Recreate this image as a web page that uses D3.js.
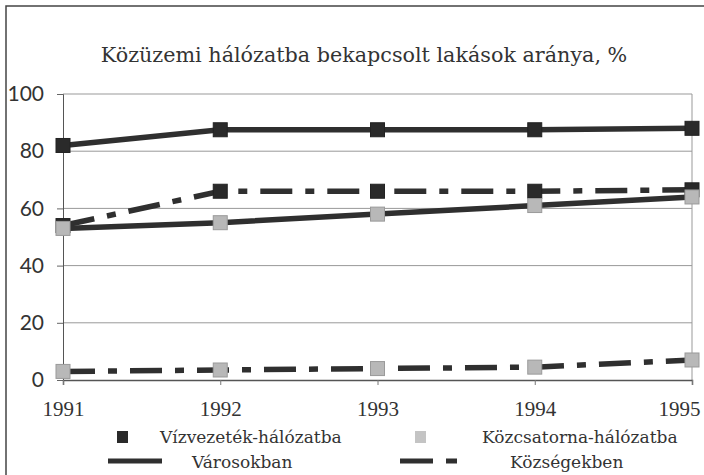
<!DOCTYPE html>
<html>
<head>
<meta charset="utf-8">
<script src="https://d3js.org/d3.v7.min.js"></script>
<style>
  body { margin: 0; background: #fff; }
  svg { display: block; }
</style>
</head>
<body>
<div id="chart"></div>
<script>
// data
const years = [1991, 1992, 1993, 1994, 1995];
const vizVaros = [82, 87.5, 87.5, 87.5, 88];
const vizKozseg = [54, 66, 66, 66, 66.5];
const csatVaros = [53, 55, 58, 61, 64];
const csatKozseg = [3, 3.5, 4, 4.5, 7];
const yTicks = [0, 20, 40, 60, 80, 100];

const width = 704, height = 475;
const plot = {left: 63, right: 692, top: 94, bottom: 380};
const serif = "'DejaVu Serif', serif";

const svg = d3.select("#chart").append("svg")
    .attr("width", width)
    .attr("height", height);

// outer frame of the figure
svg.append("rect")
    .attr("x", 6).attr("y", 6)
    .attr("width", 720).attr("height", 500)
    .attr("fill", "#fff")
    .attr("stroke", "#444")
    .attr("stroke-width", 1.5);

svg.append("text")
    .attr("x", 364).attr("y", 62)
    .attr("text-anchor", "middle")
    .style("font-family", serif)
    .style("font-size", "20.7px")
    .attr("fill", "#333")
    .text("Közüzemi hálózatba bekapcsolt lakások aránya, %");

const x = d3.scalePoint()
    .domain(years)
    .range([plot.left, plot.right]);

const y = d3.scaleLinear()
    .domain([0, 100])
    .range([plot.bottom, plot.top]);

// gridlines
svg.append("g")
  .selectAll("line")
  .data(yTicks.filter(d => d > 0))
  .join("line")
    .attr("x1", plot.left).attr("x2", plot.right)
    .attr("y1", d => y(d)).attr("y2", d => y(d))
    .attr("stroke", "#999")
    .attr("stroke-width", 1);

// right border of plot area
svg.append("line")
    .attr("x1", plot.right).attr("x2", plot.right)
    .attr("y1", y(100)).attr("y2", y(0))
    .attr("stroke", "#999");

// y axis
const yAxis = svg.append("g")
    .attr("transform", `translate(${plot.left},0)`)
    .call(d3.axisLeft(y).tickValues(yTicks).tickSize(6).tickPadding(13));
yAxis.select(".domain").attr("stroke", "#555");
yAxis.selectAll(".tick line").attr("stroke", "#666");
yAxis.selectAll("text")
    .style("font-family", "Lato, sans-serif")
    .style("font-size", "21px")
    .attr("fill", "#333");

// x axis
const xAxis = svg.append("g")
    .attr("transform", `translate(0,${plot.bottom})`)
    .call(d3.axisBottom(x).tickSize(5).tickPadding(16));
xAxis.select(".domain").attr("stroke", "#555").attr("stroke-width", 1.5);
xAxis.selectAll(".tick line").attr("stroke", "#777");
xAxis.selectAll("text")
    .style("font-family", "'Liberation Serif', serif")
    .style("font-size", "21px")
    .attr("fill", "#333");
// last label sits inside the frame
xAxis.selectAll(".tick text")
    .filter(d => d === years[years.length - 1])
    .attr("text-anchor", "end")
    .attr("x", 8);

const series = [
  {values: vizVaros, dash: null, marker: "#2a2a2a"},
  {values: vizKozseg, dash: "32,13,9,13", marker: "#2a2a2a"},
  {values: csatVaros, dash: null, marker: "#b8b8b8"},
  {values: csatKozseg, dash: "32,13,9,13", marker: "#b8b8b8"}
];

const line = d3.line()
    .x((d, i) => x(years[i]))
    .y(d => y(d));

series.forEach(s => {
  svg.append("path")
      .datum(s.values)
      .attr("fill", "none")
      .attr("stroke", "#2f2f2f")
      .attr("stroke-width", 5.5)
      .attr("stroke-dasharray", s.dash)
      .attr("d", line);
});

series.forEach(s => {
  svg.append("g")
    .selectAll("rect")
    .data(s.values)
    .join("rect")
      .attr("x", (d, i) => x(years[i]) - 7)
      .attr("y", d => y(d) - 7)
      .attr("width", 14).attr("height", 14)
      .attr("fill", s.marker)
      .attr("stroke", s.marker === "#2a2a2a" ? "#222" : "#9a9a9a")
      .attr("stroke-width", 1);
});

// legend
const leg = svg.append("g")
    .style("font-family", serif)
    .style("font-size", "17px")
    .attr("fill", "#333");

leg.append("rect").attr("x", 117).attr("y", 431).attr("width", 11).attr("height", 12).attr("fill", "#2a2a2a");
leg.append("text").attr("x", 160).attr("y", 443).text("Vízvezeték-hálózatba");
leg.append("rect").attr("x", 415).attr("y", 431).attr("width", 11).attr("height", 12).attr("fill", "#c4c4c4");
leg.append("text").attr("x", 482).attr("y", 443).text("Közcsatorna-hálózatba");

leg.append("line").attr("x1", 108).attr("x2", 162).attr("y1", 461).attr("y2", 461)
    .attr("stroke", "#2f2f2f").attr("stroke-width", 5);
leg.append("text").attr("x", 192).attr("y", 468).text("Városokban");
leg.append("line").attr("x1", 400).attr("x2", 457).attr("y1", 461).attr("y2", 461)
    .attr("stroke", "#2f2f2f").attr("stroke-width", 5)
    .attr("stroke-dasharray", "33,13,11,50");
leg.append("text").attr("x", 510).attr("y", 468).text("Községekben");
</script>
</body>
</html>
